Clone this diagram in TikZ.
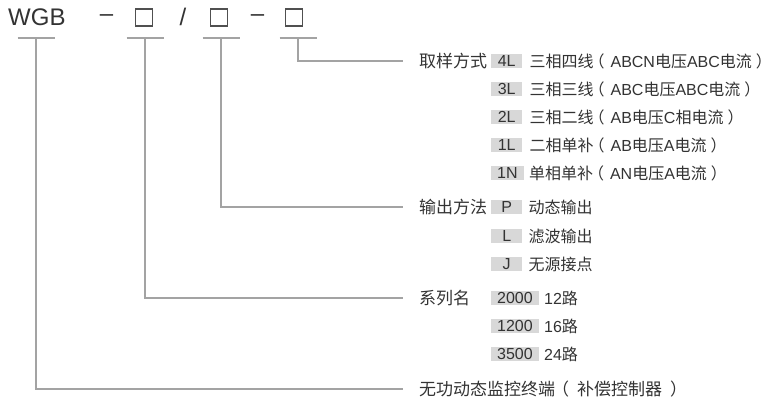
\documentclass[tikz,border=0pt]{standalone}
\usepackage{fontspec}
\setmainfont{Liberation Sans}
\newfontfamily\cjk{Noto Sans CJK SC}
\newcommand\zh[1]{{\cjk #1}}
\newcommand\lpar{{\cjk\kern-5pt（\kern6pt}}
\newcommand\rpar{{\cjk\kern4pt）}}
\definecolor{txt}{HTML}{333333}
\definecolor{boxgray}{HTML}{D8D8D8}
\definecolor{linegray}{HTML}{A3A3A3}
\definecolor{sqcol}{HTML}{505050}
\tikzset{
  ln/.style={draw=linegray, line width=1.2pt},
  lab/.style={anchor=west, inner sep=0pt, font=\fontsize{17}{20}\cjk, text=txt},
  codebox/.style={fill=boxgray, minimum width=31pt, minimum height=14pt, inner xsep=6pt, inner ysep=0pt, font=\fontsize{16}{18}\selectfont, text=txt, anchor=west},
  desc/.style={anchor=west, inner sep=0pt, font=\fontsize{16}{18}\selectfont, text=txt},
  sq/.style={draw=sqcol, line width=1.2pt, minimum size=17pt, inner sep=0pt},
  big/.style={inner sep=0pt, font=\fontsize{24}{28}\selectfont, text=txt},
}
\begin{document}
\begin{tikzpicture}[x=1pt, y=-1pt]
\useasboundingbox[fill=white] (0,0) rectangle (772,411);
% title row
\node[big, anchor=base west] (wgb) at (8,26) {WGB};
\node[big, anchor=base] (d1) at (106.5,22) {–};
\node[sq] (s1) at (144,17.5) {};
\node[big, anchor=base] (sl) at (183,26) {/};
\node[sq] (s2) at (219,17.5) {};
\node[big, anchor=base] (d2) at (257.5,22) {–};
\node[sq] (s3) at (294,17.5) {};
% underline points
\coordinate (u0) at (36,38);
\coordinate (u1) at (145,38);
\coordinate (u2) at (221,38);
\coordinate (u3) at (298,38);
\foreach \u in {u0,u1,u2,u3}{
  \draw[ln] ([xshift=-18.5pt]\u) -- ([xshift=18.5pt]\u);
}
% labels
\node[lab] (l1) at (419,61) {取样方式};
\node[lab] (l2) at (419,207) {输出方法};
\node[lab] (l3) at (419,298) {系列名};
\node[lab] (l4) at (419,389) {无功动态监控终端{\kern-3pt（\kern8pt}补偿控制器{\kern8pt）}};
% connectors
\draw[ln] (u3) |- ([xshift=-16pt]l1.west);
\draw[ln] (u2) |- ([xshift=-16pt]l2.west);
\draw[ln] (u1) |- ([xshift=-16pt]l3.west);
\draw[ln] (u0) |- ([xshift=-16pt]l4.west);
% sampling options
\node[codebox] (a1) at (491,61) {4L};
\node[desc] at ([xshift=7pt]a1.east) {\zh{三相四线}\lpar ABCN\zh{电压}ABC\zh{电流}\rpar};
\node[codebox] (a2) at (491,89) {3L};
\node[desc] at ([xshift=7pt]a2.east) {\zh{三相三线}\lpar ABC\zh{电压}ABC\zh{电流}\rpar};
\node[codebox] (a3) at (491,117) {2L};
\node[desc] at ([xshift=7pt]a3.east) {\zh{三相二线}\lpar AB\zh{电压}C\zh{相电流}\rpar};
\node[codebox] (a4) at (491,145) {1L};
\node[desc] at ([xshift=7pt]a4.east) {\zh{二相单补}\lpar AB\zh{电压}A\zh{电流}\rpar};
\node[codebox] (a5) at (491,173) {1N};
\node[desc] at ([xshift=5pt]a5.east) {\zh{单相单补}\lpar AN\zh{电压}A\zh{电流}\rpar};
% output options
\node[codebox] (b1) at (491,207) {P};
\node[desc] at ([xshift=6pt]b1.east) {\zh{动态输出}};
\node[codebox] (b2) at (491,236) {L};
\node[desc] at ([xshift=6pt]b2.east) {\zh{滤波输出}};
\node[codebox] (b3) at (491,264) {J};
\node[desc] at ([xshift=6pt]b3.east) {\zh{无源接点}};
% series
\node[codebox] (c1) at (491,298) {2000};
\node[desc] at ([xshift=5pt]c1.east) {12\zh{路}};
\node[codebox] (c2) at (491,326) {1200};
\node[desc] at ([xshift=5pt]c2.east) {16\zh{路}};
\node[codebox] (c3) at (491,354) {3500};
\node[desc] at ([xshift=5pt]c3.east) {24\zh{路}};
\end{tikzpicture}
\end{document}
